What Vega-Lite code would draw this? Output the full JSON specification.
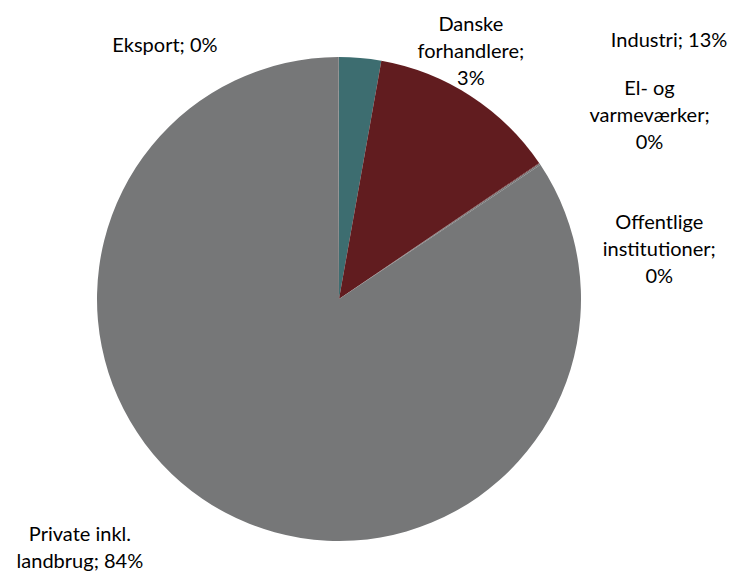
{
  "$schema": "https://vega.github.io/schema/vega-lite/v6.json",
  "width": 678,
  "height": 548,
  "autosize": {"type": "none"},
  "padding": {"left": 0, "top": 25, "right": 60, "bottom": 0},
  "background": "white",
  "config": {"view": {"stroke": null}},
  "data": {"values": [
    {"idx": 1, "cat": "Danske forhandlere", "v": 2.8, "label": "Danske\nforhandlere;\n3%"},
    {"idx": 2, "cat": "Industri", "v": 12.7, "label": "Industri; 13%"},
    {"idx": 3, "cat": "El- og varmeværker", "v": 0.05, "label": "El- og\nvarmeværker;\n0%"},
    {"idx": 4, "cat": "Offentlige institutioner", "v": 0.1, "label": "Offentlige\ninstitutioner;\n0%"},
    {"idx": 5, "cat": "Private inkl. landbrug", "v": 84.3, "label": "Private inkl.\nlandbrug; 84%"},
    {"idx": 6, "cat": "Eksport", "v": 0.05, "label": "Eksport; 0%"}
  ]},
  "encoding": {
    "theta": {"field": "v", "type": "quantitative", "stack": true},
    "order": {"field": "idx", "type": "quantitative", "sort": "ascending"}
  },
  "layer": [
    {
      "mark": {"type": "arc", "outerRadius": 242, "stroke": null},
      "encoding": {
        "color": {
          "field": "cat", "type": "nominal", "legend": null,
          "scale": {
            "domain": ["Danske forhandlere", "Industri", "El- og varmeværker", "Offentlige institutioner", "Private inkl. landbrug", "Eksport"],
            "range": ["#3d6d70", "#611c1f", "#611c1f", "#767778", "#767778", "#767778"]
          }
        }
      }
    },
    {
      "mark": {"type": "text", "radius": 260, "dx": 109, "dy": -15, "align": "center", "baseline": "middle", "font": "Lato", "fontSize": 20, "lineHeight": 27, "lineBreak": "\n", "color": "#000000"},
      "encoding": {"detail": {"field": "cat"}, "text": {"condition": {"test": "datum.idx === 1", "field": "label"}, "value": ""}}
    },
    {
      "mark": {"type": "text", "radius": 270, "dx": 125, "dy": -31, "align": "left", "baseline": "middle", "font": "Lato", "fontSize": 20, "lineHeight": 27, "lineBreak": "\n", "color": "#000000"},
      "encoding": {"detail": {"field": "cat"}, "text": {"condition": {"test": "datum.idx === 2", "field": "label"}, "value": ""}}
    },
    {
      "mark": {"type": "text", "radius": 270, "dx": 87, "dy": -59, "align": "center", "baseline": "middle", "font": "Lato", "fontSize": 20, "lineHeight": 27, "lineBreak": "\n", "color": "#000000"},
      "encoding": {"detail": {"field": "cat"}, "text": {"condition": {"test": "datum.idx === 3", "field": "label"}, "value": ""}}
    },
    {
      "mark": {"type": "text", "radius": 270, "dx": 96, "dy": 74, "align": "center", "baseline": "middle", "font": "Lato", "fontSize": 20, "lineHeight": 27, "lineBreak": "\n", "color": "#000000"},
      "encoding": {"detail": {"field": "cat"}, "text": {"condition": {"test": "datum.idx === 4", "field": "label"}, "value": ""}}
    },
    {
      "mark": {"type": "text", "radius": 270, "dx": -132, "dy": -2, "align": "center", "baseline": "middle", "font": "Lato", "fontSize": 20, "lineHeight": 27, "lineBreak": "\n", "color": "#000000"},
      "encoding": {"detail": {"field": "cat"}, "text": {"condition": {"test": "datum.idx === 5", "field": "label"}, "value": ""}}
    },
    {
      "mark": {"type": "text", "radius": 260, "dx": -121, "dy": 7, "align": "right", "baseline": "middle", "font": "Lato", "fontSize": 20, "lineHeight": 27, "lineBreak": "\n", "color": "#000000"},
      "encoding": {"detail": {"field": "cat"}, "text": {"condition": {"test": "datum.idx === 6", "field": "label"}, "value": ""}}
    }
  ]
}
